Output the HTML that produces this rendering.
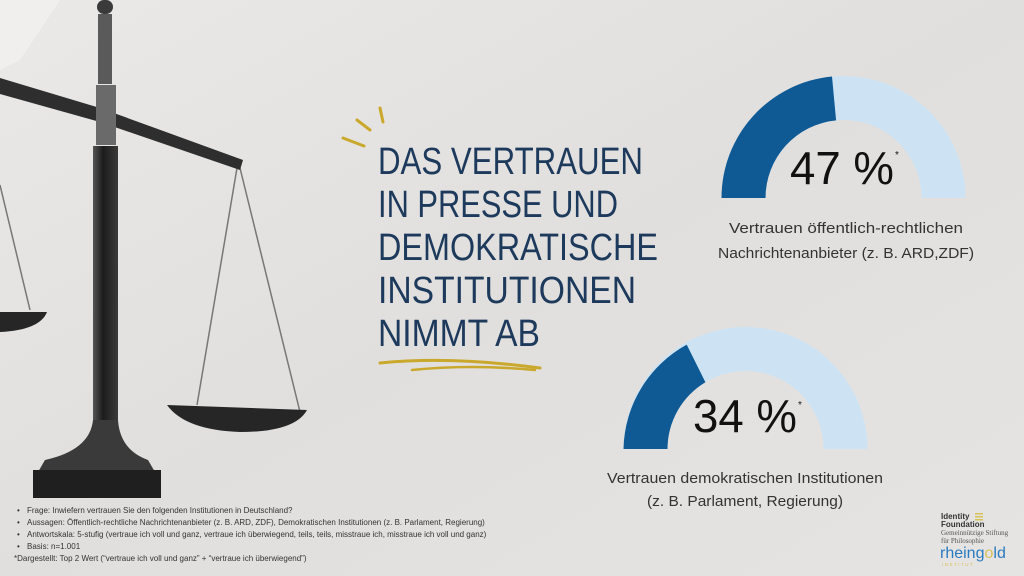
<!DOCTYPE html>
<html><head><meta charset="utf-8"><style>
html,body{margin:0;padding:0;}
body{width:1024px;height:576px;overflow:hidden;background:#e3e1df;}
svg{display:block}
</style></head><body>
<svg width="1024" height="576" viewBox="0 0 1024 576" xmlns="http://www.w3.org/2000/svg">
<defs>
<linearGradient id="bg" x1="0" y1="0" x2="1" y2="1">
<stop offset="0" stop-color="#eae9e8"/><stop offset="0.5" stop-color="#e1dfdd"/><stop offset="1" stop-color="#e6e4e2"/>
</linearGradient>
<linearGradient id="pole" x1="0" x2="1"><stop offset="0" stop-color="#555"/><stop offset="0.4" stop-color="#1c1c1c"/><stop offset="1" stop-color="#3a3a3a"/></linearGradient>
</defs>
<rect width="1024" height="576" fill="url(#bg)"/>
<path d="M0 0 L60 0 L40 30 L20 60 L0 70Z" fill="#f0efee"/>

<!-- scale -->
<g>
<line x1="237" y1="168" x2="197" y2="405" stroke="#777" stroke-width="1.5"/>
<line x1="240" y1="168" x2="300" y2="412" stroke="#777" stroke-width="1.5"/>
<line x1="0" y1="185" x2="30" y2="310" stroke="#777" stroke-width="1.5"/>
<path d="M0 78 L100 108 L243 160 L240 170 L100 122 L0 94Z" fill="#2e2e2e"/>
<rect x="97" y="0" width="16" height="14" rx="7" fill="#3a3a3a"/>
<rect x="98" y="14" width="14" height="70" fill="#5a5a5a"/>
<rect x="96" y="85" width="20" height="60" fill="#6a6a6a"/>
<rect x="93" y="146" width="25" height="276" fill="url(#pole)"/>
<path d="M93 420 L118 420 Q120 450 148 460 L155 472 L38 472 L45 460 Q90 450 93 420Z" fill="#3a3a3a"/>
<rect x="33" y="470" width="128" height="28" fill="#1f1f1f"/>
<path d="M0 312 L47 312 Q40 330 0 332Z" fill="#262626"/>
<path d="M167 405 L307 410 Q295 432 240 432 Q185 430 167 405Z" fill="#262626"/>
</g>

<!-- accent marks -->
<path d="M343 138 L364 146" stroke="#c9a82c" stroke-width="3" stroke-linecap="round"/>
<path d="M357 120 L370 130" stroke="#c9a82c" stroke-width="3" stroke-linecap="round"/>
<path d="M380 108 L383 122" stroke="#c9a82c" stroke-width="3" stroke-linecap="round"/>
<path d="M380 363 Q450 356 540 368" stroke="#c9a82c" stroke-width="3" fill="none" stroke-linecap="round"/>
<path d="M412 370 Q470 364 535 370" stroke="#c9a82c" stroke-width="2.5" fill="none" stroke-linecap="round"/>

<!-- title -->
<g font-family="'Liberation Sans',sans-serif" font-size="38" fill="#1d3a5c">
<text x="378" y="174" textLength="265" lengthAdjust="spacingAndGlyphs">DAS VERTRAUEN</text>
<text x="378" y="217" textLength="240" lengthAdjust="spacingAndGlyphs">IN PRESSE UND</text>
<text x="378" y="260" textLength="280" lengthAdjust="spacingAndGlyphs">DEMOKRATISCHE</text>
<text x="378" y="303" textLength="258" lengthAdjust="spacingAndGlyphs">INSTITUTIONEN</text>
<text x="378" y="346" textLength="162" lengthAdjust="spacingAndGlyphs">NIMMT AB</text>
</g>

<!-- gauge 1 -->
<path d="M721.5 198 A122 122 0 0 1 965.5 198 L921.5 198 A78 78 0 0 0 765.5 198Z" fill="#cde3f3"/>
<path d="M721.5 198 A122 122 0 0 1 832.0 76.5 L836.1 120.4 A78 78 0 0 0 765.5 198Z" fill="#0f5a94"/>
<text x="790" y="184" font-family="'Liberation Sans',sans-serif" font-size="46" fill="#111" textLength="104" lengthAdjust="spacingAndGlyphs">47 %</text>
<text x="895" y="158" font-family="'Liberation Sans',sans-serif" font-size="10" fill="#111">*</text>
<g font-family="'Liberation Sans',sans-serif" font-size="15" fill="#333" text-anchor="middle">
<text x="846" y="233" textLength="234" lengthAdjust="spacingAndGlyphs">Vertrauen öffentlich-rechtlichen</text>
<text x="846" y="258" textLength="256" lengthAdjust="spacingAndGlyphs">Nachrichtenanbieter (z. B. ARD,ZDF)</text>
</g>

<!-- gauge 2 -->
<path d="M623.5 449 A122 122 0 0 1 867.5 449 L823.5 449 A78 78 0 0 0 667.5 449Z" fill="#cde3f3"/>
<path d="M623.5 449 A122 122 0 0 1 686.7 344.6 L705.4 382.2 A78 78 0 0 0 667.5 449Z" fill="#0f5a94"/>
<text x="693" y="432" font-family="'Liberation Sans',sans-serif" font-size="46" fill="#111" textLength="104" lengthAdjust="spacingAndGlyphs">34 %</text>
<text x="798" y="408" font-family="'Liberation Sans',sans-serif" font-size="10" fill="#111">*</text>
<g font-family="'Liberation Sans',sans-serif" font-size="15" fill="#333" text-anchor="middle">
<text x="745" y="483" textLength="276" lengthAdjust="spacingAndGlyphs">Vertrauen demokratischen Institutionen</text>
<text x="745" y="506" textLength="196" lengthAdjust="spacingAndGlyphs">(z. B. Parlament, Regierung)</text>
</g>

<!-- footnotes -->
<g font-family="'Liberation Sans Narrow','Liberation Sans',sans-serif" font-size="8" fill="#333">
<text x="17" y="513">•</text><text x="27" y="513">Frage: Inwiefern vertrauen Sie den folgenden Institutionen in Deutschland?</text>
<text x="17" y="525">•</text><text x="27" y="525">Aussagen: Öffentlich-rechtliche Nachrichtenanbieter (z. B. ARD, ZDF), Demokratischen Institutionen (z. B. Parlament, Regierung)</text>
<text x="17" y="537">•</text><text x="27" y="537">Antwortskala: 5-stufig (vertraue ich voll und ganz, vertraue ich überwiegend, teils, teils, misstraue ich, misstraue ich voll und ganz)</text>
<text x="17" y="549">•</text><text x="27" y="549">Basis: n=1.001</text>
<text x="14" y="561">*Dargestellt: Top 2 Wert (“vertraue ich voll und ganz” + “vertraue ich überwiegend”)</text>
</g>

<!-- logos -->
<g font-family="'Liberation Sans',sans-serif">
<text x="941" y="519" font-size="8" font-weight="bold" fill="#333">Identity</text>
<rect x="975" y="513" width="8" height="1.5" fill="#d8c05a"/><rect x="975" y="516" width="8" height="1.5" fill="#d8c05a"/><rect x="975" y="519" width="8" height="1.5" fill="#d8c05a"/>
<text x="941" y="527" font-size="8" font-weight="bold" fill="#333">Foundation</text>
<text x="941" y="535" font-family="'Liberation Serif',serif" font-size="7" fill="#555">Gemeinnützige Stiftung</text>
<text x="941" y="543" font-family="'Liberation Serif',serif" font-size="7" fill="#555">für Philosophie</text>
<text x="940" y="558" font-size="16" fill="#2a7ac0">rheing<tspan fill="#d8c05a">o</tspan>ld</text>
<text x="942" y="566" font-size="4.5" fill="#d8c05a" letter-spacing="1.5">INSTITUT</text>
</g>
</svg>
</body></html>
